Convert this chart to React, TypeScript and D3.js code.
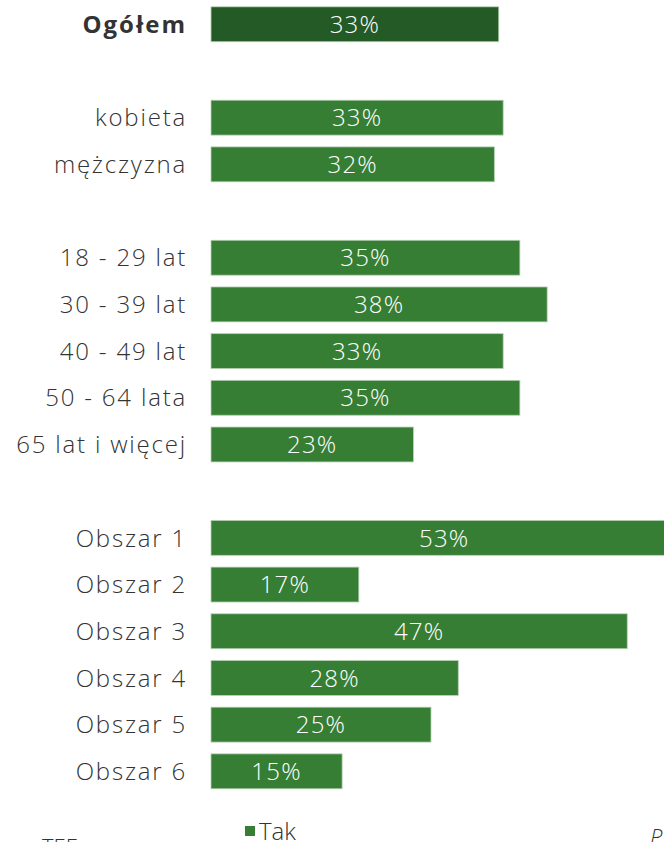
import React from "react";
import * as d3 from "d3";

const categories = ["Ogółem", "", "kobieta", "mężczyzna", " ", "18 - 29 lat", "30 - 39 lat", "40 - 49 lat", "50 - 64 lata", "65 lat i więcej", "  ", "Obszar 1", "Obszar 2", "Obszar 3", "Obszar 4", "Obszar 5", "Obszar 6"];
const values: (number | null)[] = [32.7, null, 33.2, 32.2, null, 35.1, 38.2, 33.2, 35.1, 23.0, null, 53.0, 16.8, 47.3, 28.1, 25.0, 14.9];
const seriesName = "Tak";

const W = 664;
const H = 842;

export default function App() {
  const x = d3.scaleLinear().domain([0, 10]).range([211, 299]);
  const y = d3.scaleBand<string>().domain(categories).range([0, 795.6]).paddingInner(0.2522).paddingOuter(0.2522 / 2 + 0.02);
  const bh = y.bandwidth();
  const font = "'Open Sans', Lato, sans-serif";
  return (
    <svg width={W} height={H} style={{ position: "absolute", left: 0, top: 0, display: "block" }}>
      <rect x={0} y={0} width={W} height={H} fill="#fff" />
      {categories.map((c, i) => {
        const v = values[i];
        if (v === null) return null;
        const y0 = (y(c) as number);
        const isTotal = i === 0;
        return (
          <g key={i}>
            <rect x={x(0)} y={y0} width={x(v) - x(0)} height={bh} fill={isTotal ? "#245a25" : "#377e35"} stroke="#b7d1b6" strokeWidth={0.8} />
            <text x={(x(0) + x(v)) / 2} y={y0 + bh / 2} dy="0.36em" textAnchor="middle" fill="#fff" fontFamily={font} fontSize={24} fontWeight={300} letterSpacing={1.2}>
              {Math.round(v) + "%"}
            </text>
            <text x={187} y={y0 + bh / 2} dy="0.36em" textAnchor="end" fill="#333" fontFamily={font} fontSize={24} fontWeight={isTotal ? 700 : 300} letterSpacing={isTotal ? 2 : 1.8}>
              {c}
            </text>
          </g>
        );
      })}
      <rect x={245} y={826} width={10} height={10} fill="#377e35" />
      <text x={259} y={840} fill="#333" fontFamily={font} fontSize={24} fontWeight={300}>{seriesName}</text>
      <text x={42} y={855} fill="#333" fontFamily={font} fontSize={22} fontWeight={300}>TEE</text>
      <text x={650} y={845} fill="#333" fontFamily={font} fontSize={22} fontWeight={300} fontStyle="italic">P</text>
    </svg>
  );
}
